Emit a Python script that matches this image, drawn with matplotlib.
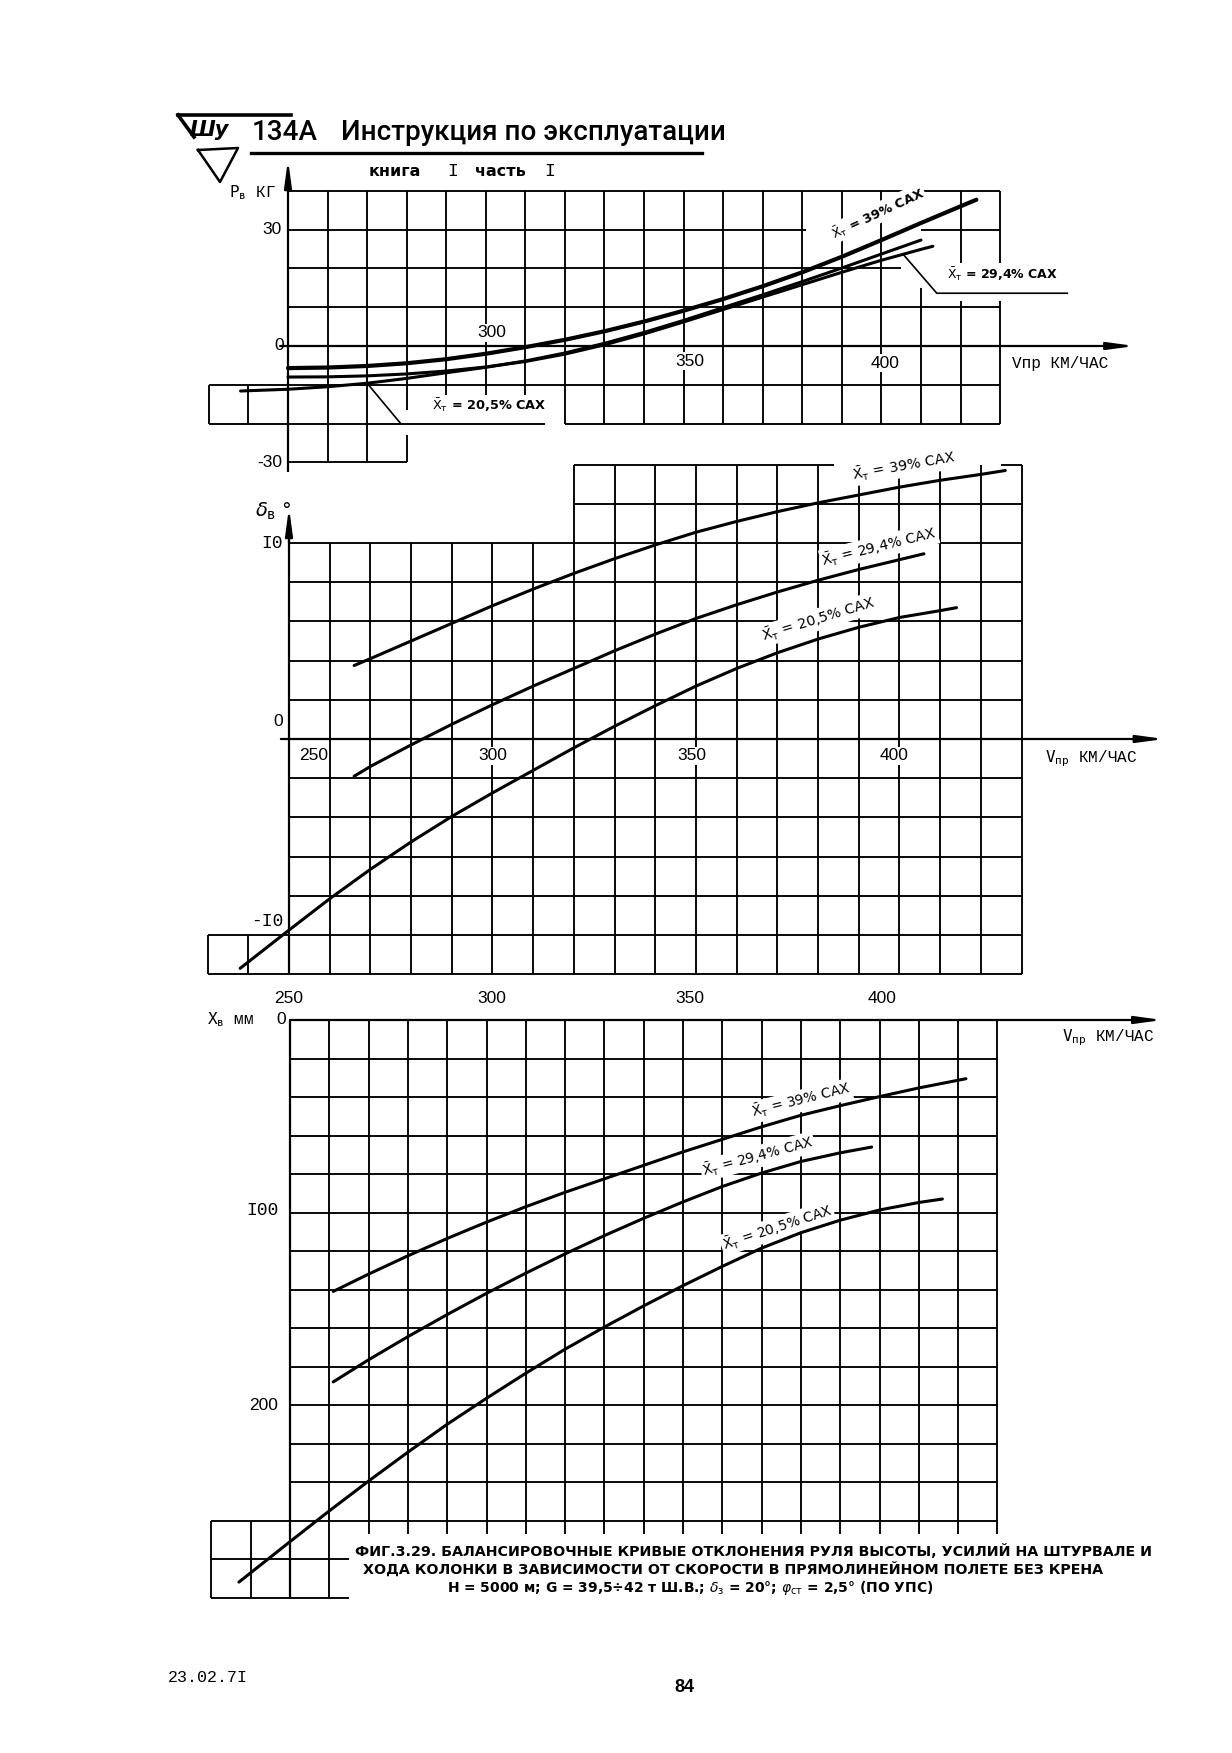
import numpy as np
import matplotlib
matplotlib.use("Agg")
import matplotlib.pyplot as plt
from matplotlib.lines import Line2D

W, H, DPI = 1232, 1753, 100

# ---------------- data (read from the scanned page) ----------------
# Panel 1: stick force P_в, кг  vs  V_пр, км/ч
P1_V_39 = [250, 260, 270, 280, 290, 300, 310, 320, 330, 340, 350, 360, 370, 380, 390, 400, 410, 420, 424]
P1_39 = [-5.7, -5.55, -5.15, -4.45, -3.4, -2.0, -0.3, 1.6, 3.8, 6.3, 9.1, 12.1, 15.4, 19.0, 23.0, 27.3, 31.7, 36.0, 37.7]
P1_V_294 = [250, 260, 270, 280, 290, 300, 310, 320, 330, 340, 350, 360, 370, 380, 390, 400, 410, 413]
P1_294 = [-8.0, -7.95, -7.7, -7.2, -6.45, -5.4, -4.0, -2.1, 0.3, 3.1, 6.2, 9.4, 12.6, 15.8, 19.0, 22.1, 24.9, 25.7]
P1_V_205 = [238, 250, 260, 270, 280, 290, 300, 310, 320, 330, 340, 350, 360, 370, 380, 390, 400, 410]
P1_205 = [-11.6, -11.15, -10.5, -9.6, -8.35, -6.9, -5.5, -3.85, -1.8, 0.7, 3.5, 6.6, 9.9, 13.2, 16.6, 20.1, 23.7, 27.3]

# Panel 2: elevator deflection δ_в, град
D_V_39 = [266, 270, 280, 290, 300, 310, 320, 330, 340, 350, 360, 370, 380, 390, 400, 410, 420, 426]
D_39 = [3.75, 4.1, 5.0, 5.9, 6.8, 7.65, 8.45, 9.2, 9.9, 10.55, 11.1, 11.6, 12.05, 12.45, 12.85, 13.2, 13.5, 13.7]
D_V_294 = [266, 270, 280, 290, 300, 310, 320, 330, 340, 350, 360, 370, 380, 390, 400, 406]
D_294 = [-1.9, -1.4, -0.3, 0.75, 1.75, 2.7, 3.6, 4.5, 5.35, 6.15, 6.85, 7.5, 8.1, 8.65, 9.15, 9.45]
D_V_205 = [238, 250, 260, 270, 280, 290, 300, 310, 320, 330, 340, 350, 360, 370, 380, 390, 400, 410, 414]
D_205 = [-11.7, -9.75, -8.15, -6.65, -5.25, -3.95, -2.75, -1.6, -0.45, 0.65, 1.7, 2.7, 3.6, 4.4, 5.1, 5.7, 6.2, 6.55, 6.7]

# Panel 3: column travel X_в, мм
X_V_39 = [261, 270, 280, 290, 300, 310, 320, 330, 340, 350, 360, 370, 380, 390, 400, 410, 420, 422]
X_39 = [141, 132, 122.5, 113.5, 105, 97, 89.5, 82.5, 75.5, 68.5, 62, 55.5, 49.5, 44.5, 39.8, 35.3, 31.3, 30.5]
X_V_294 = [261, 270, 280, 290, 300, 310, 320, 330, 340, 350, 360, 370, 380, 390, 398]
X_294 = [188, 176.5, 164.5, 153, 142, 131.5, 121.5, 112, 103, 94.5, 86.5, 79.5, 73.5, 69, 66]
X_V_205 = [237, 250, 260, 270, 280, 290, 300, 310, 320, 330, 340, 350, 360, 370, 380, 390, 400, 410, 416]
X_205 = [292, 271, 255, 239.5, 224.5, 210, 196.5, 183.5, 171, 159.5, 148.5, 138, 128, 118.5, 110.5, 104, 98.7, 94.8, 93]

LAB_39 = r'$\bar{\mathrm{X}}_{\mathrm{т}}$ = 39% САХ'
LAB_294 = r'$\bar{\mathrm{X}}_{\mathrm{т}}$ = 29,4% САХ'
LAB_205 = r'$\bar{\mathrm{X}}_{\mathrm{т}}$ = 20,5% САХ'

P1_XTICKS = ['300', '350', '400']
D_XTICKS = ['250', '300', '350', '400']
X_XTICKS = ['250', '300', '350', '400']

# ---------------- styling ----------------
plt.rcParams['font.family'] = ['DejaVu Sans']
plt.rcParams['mathtext.fontset'] = 'dejavusans'
SANS = 'Liberation Sans'
MONO = 'Liberation Mono'
K = 'black'
GRID_LW = 1.35
CURVE_LW = 2.2
BOX = dict(facecolor='white', edgecolor='none', pad=1.0)

fig = plt.figure(figsize=(W / DPI, H / DPI), dpi=DPI)
fig.patch.set_facecolor('white')


def px_text(x, y, s, **kw):
    kw.setdefault('va', 'center')
    kw.setdefault('ha', 'left')
    return fig.text(x / W, 1 - y / H, s, **kw)


def px_line(xs, ys, **kw):
    fig.add_artist(Line2D([x / W for x in xs], [1 - y / H for y in ys],
                          transform=fig.transFigure, **kw))


def make_panel(xv0, xpx0, xs, yv0, ypx0, ys, xlim, ylim):
    lx = xpx0 + (xlim[0] - xv0) * xs
    rx = xpx0 + (xlim[1] - xv0) * xs
    by = ypx0 - (ylim[0] - yv0) * ys
    ty = ypx0 - (ylim[1] - yv0) * ys
    ax = fig.add_axes([lx / W, 1 - by / H, (rx - lx) / W, (by - ty) / H])
    ax.set_xlim(*xlim)
    ax.set_ylim(*ylim)
    ax.set_axis_off()
    ax.patch.set_alpha(0)
    return ax


def draw_grid(ax, hsegs, vsegs):
    for y, x0, x1 in hsegs:
        ax.hlines(y, x0, x1, colors=K, lw=GRID_LW, zorder=1, clip_on=False)
    for x, y0, y1 in vsegs:
        ax.vlines(x, y0, y1, colors=K, lw=GRID_LW, zorder=1, clip_on=False)


def arrow(ax, start, end):
    ax.annotate('', xy=end, xytext=start, annotation_clip=False,
                arrowprops=dict(arrowstyle='-|>,head_length=1.6,head_width=0.22',
                                color=K, lw=1.6, shrinkA=0, shrinkB=0))


def curve(ax, v, y, lw=CURVE_LW):
    ax.plot(v, y, color=K, lw=lw, solid_capstyle='round', solid_joinstyle='round',
            zorder=4, clip_on=False)


# ---------------- header ----------------
px_line([178, 291], [115, 115], color=K, lw=2.6)
px_line([178, 194], [115, 137], color=K, lw=2.6)
px_line([198, 238, 220, 198], [150, 148, 182, 150], color=K, lw=1.8)
px_text(190, 130, 'Шу', fontsize=15, weight='bold', style='italic')
px_text(252, 132, '134A', fontsize=20, family='Roboto', weight='medium')
px_text(341, 132, 'Инструкция по эксплуатации', fontsize=20, family='Roboto', weight='medium')
px_line([251, 702], [153, 153], color=K, lw=2.4)
px_text(369, 171, 'книга', fontsize=11.5, weight='bold')
px_text(453, 171, 'I', family=MONO, fontsize=13, ha='center')
px_text(475, 171, 'часть', fontsize=11.5, weight='bold')
px_text(550, 171, 'I', family=MONO, fontsize=13, ha='center')

# ---------------- panel 1 : P_в ----------------
ax1 = make_panel(250, 288, 3.956, 0, 346, 3.88, (220, 470), (-36, 50))
H1 = [(40, 250, 430), (30, 250, 381), (30, 410, 430), (20, 250, 405), (10, 250, 430),
      (-10, 230, 430), (-20, 230, 315), (-20, 320, 430), (-30, 250, 280)]
V1 = [(230, -20, -10), (240, -20, -10), (260, -30, 40), (270, -30, 40),
      (280, -16.5, 40), (280, -30, -23), (290, -13, 40), (300, -13, 40), (310, -13, 40)]
V1 += [(x, -20, 40) for x in range(320, 410, 10)]
V1 += [(410, -20, 15), (420, -20, 11.5), (420, 21.5, 40), (430, -20, 11.5), (430, 21.5, 40)]
draw_grid(ax1, H1, V1)
ax1.vlines(250, -32.5, 40, colors=K, lw=1.6, zorder=1)
arrow(ax1, (250, 40), (250, 48))
arrow(ax1, (248, 0), (464, 0))

curve(ax1, P1_V_39, P1_39, lw=3.0)
curve(ax1, P1_V_294, P1_294)
curve(ax1, P1_V_205, P1_205)

# leader lines from the curves to their labels
x_a = 270
ax1.plot([x_a, 278.5], [np.interp(x_a, P1_V_205, P1_205), -20], color=K, lw=1.2, zorder=3)
x_b = 405.5
ax1.plot([x_b, 414, 447], [np.interp(x_b, P1_V_294, P1_294), 13.6, 13.6], color=K, lw=1.2,
         zorder=3, clip_on=False)

for s, (x, y) in zip(['30', '0', '-30'], [(248.5, 30), (249, 0), (248.5, -30)]):
    ax1.text(x, y, s, family=SANS, fontsize=12.5, ha='right', va='center')
for s, (x, y) in zip(P1_XTICKS, [(301.5, 3.4), (351.6, -3.9), (401, -4.4)]):
    ax1.text(x, y, s, family=SANS, fontsize=12.5, ha='center', va='center', bbox=BOX, zorder=2)
ax1.text(433, -4.4, 'Vпр КМ/ЧАС', family=MONO, fontsize=11.5, ha='left', va='center')
ax1.text(235, 39.4, r'$\mathtt{P}_{\mathtt{в}}$ КГ', family=MONO, fontsize=11.5,
         ha='left', va='center')

ax1.text(399, 34.2, LAB_39, fontsize=9.3, weight='bold', rotation=25, ha='center',
         va='center', bbox=BOX, zorder=2)
ax1.text(430.5, 18.6, LAB_294, fontsize=9.0, weight='bold', ha='center', va='center',
         bbox=BOX, zorder=2)
ax1.text(301, -15.3, LAB_205, fontsize=9.3, weight='bold', ha='center', va='center',
         bbox=BOX, zorder=2)

# ---------------- panel 2 : δ_в ----------------
ax2 = make_panel(250, 289, 4.07, 0, 739, 19.6, (220, 470), (-14, 17))
H2 = [(14, 320, 384), (14, 425, 430), (12, 320, 430)]
H2 += [(y, 250, 430) for y in (10, 8, 6, 4, 2, -2, -4, -6, -8)]
H2 += [(-10, 230, 430), (-12, 230, 430)]
V2 = [(230, -12, -10), (240, -12, -10)]
V2 += [(x, -12, 10) for x in range(260, 320, 10)]
V2 += [(x, -12, 14) for x in range(320, 440, 10)]
draw_grid(ax2, H2, V2)
ax2.vlines(250, -12, 10.5, colors=K, lw=1.6, zorder=1)
arrow(ax2, (250, 10), (250, 11.8))
arrow(ax2, (248, 0), (465, 0))

curve(ax2, D_V_39, D_39)
curve(ax2, D_V_294, D_294)
curve(ax2, D_V_205, D_205)

ax2.text(241.6, 11.6, r'$\delta_{\mathrm{в}}$ °', fontsize=14, ha='left', va='center')
ax2.text(248.5, 10, 'I0', family=MONO, fontsize=13, ha='right', va='center')
ax2.text(248.5, 0.9, '0', family=SANS, fontsize=12.5, ha='right', va='center')
ax2.text(248.5, -9.3, '-I0', family=MONO, fontsize=13, ha='right', va='center')
for s, x in zip(D_XTICKS, [256, 300, 349, 398.6]):
    ax2.text(x, -0.85, s, family=SANS, fontsize=12.5, ha='center', va='center',
             bbox=BOX, zorder=2)
ax2.text(435.7, -1.0, r'$\mathtt{V}_{\mathtt{пр}}$ КМ/ЧАС', family=MONO, fontsize=11.5,
         ha='left', va='center')

ax2.text(401, 13.9, LAB_39, fontsize=10.3, rotation=10, ha='center', va='center',
         bbox=BOX, zorder=2)
ax2.text(395, 9.8, LAB_294, fontsize=10.3, rotation=14, ha='center', va='center',
         bbox=BOX, zorder=2)
ax2.text(380, 6.1, LAB_205, fontsize=10.3, rotation=17, ha='center', va='center',
         bbox=BOX, zorder=2)

# ---------------- panel 3 : X_в ----------------
ax3 = make_panel(250, 290, 3.93, 0, 1020, -1.925, (220, 480), (330, -20))
H3 = [(y, 250, 430) for y in range(20, 260, 20)]
H3 += [(260, 230, 430), (280, 230, 265), (300, 230, 265)]
V3 = [(230, 260, 300), (240, 260, 300), (260, 0, 300)]
V3 += [(x, 0, 267) for x in range(270, 440, 10)]
draw_grid(ax3, H3, V3)
ax3.vlines(250, 0, 300, colors=K, lw=1.6, zorder=1)
arrow(ax3, (250, 0), (472, 0))

curve(ax3, X_V_39, X_39)
curve(ax3, X_V_294, X_294)
curve(ax3, X_V_205, X_205)

ax3.text(229, 0, r'$\mathtt{X}_{\mathtt{в}}$ мм', family=MONO, fontsize=11.5,
         ha='left', va='center')
ax3.text(249, 0, '0', family=SANS, fontsize=12.5, ha='right', va='center')
ax3.text(247, 99, 'I00', family=MONO, fontsize=13, ha='right', va='center')
ax3.text(247, 200, '200', family=SANS, fontsize=12.5, ha='right', va='center')
for s, x in zip(X_XTICKS, [249.6, 301.4, 351.7, 400.7]):
    ax3.text(x, -11.3, s, family=SANS, fontsize=12.5, ha='center', va='center')
ax3.text(446.4, 9.1, r'$\mathtt{V}_{\mathtt{пр}}$ КМ/ЧАС', family=MONO, fontsize=11.5,
         ha='left', va='center')

ax3.text(380, 42, LAB_39, fontsize=10.0, rotation=14, ha='center', va='center',
         bbox=BOX, zorder=2)
ax3.text(369, 71, LAB_294, fontsize=10.0, rotation=15, ha='center', va='center',
         bbox=BOX, zorder=2)
ax3.text(374, 108, LAB_205, fontsize=10.0, rotation=18, ha='center', va='center',
         bbox=BOX, zorder=2)

# ---------------- caption & footer ----------------
px_text(355, 1552, 'ФИГ.3.29. БАЛАНСИРОВОЧНЫЕ КРИВЫЕ ОТКЛОНЕНИЯ РУЛЯ ВЫСОТЫ, УСИЛИЙ НА ШТУРВАЛЕ И',
        fontsize=10.3, weight='bold')
px_text(363, 1569, 'ХОДА КОЛОНКИ В ЗАВИСИМОСТИ ОТ СКОРОСТИ В ПРЯМОЛИНЕЙНОМ ПОЛЕТЕ БЕЗ КРЕНА',
        fontsize=10.3, weight='bold')
px_text(447, 1588, r'Н = 5000 м; G = 39,5÷42 т Ш.В.; $\delta_{\mathrm{з}}$ = 20°; '
        r'$\varphi_{\mathrm{ст}}$ = 2,5° (ПО УПС)', fontsize=10, weight='bold')
px_text(168, 1677, '23.02.7I', family=MONO, fontsize=12)
px_text(684, 1688, '84', family=SANS, fontsize=13, weight='bold', ha='center')

fig.savefig('out.png', dpi=DPI, facecolor='white')
